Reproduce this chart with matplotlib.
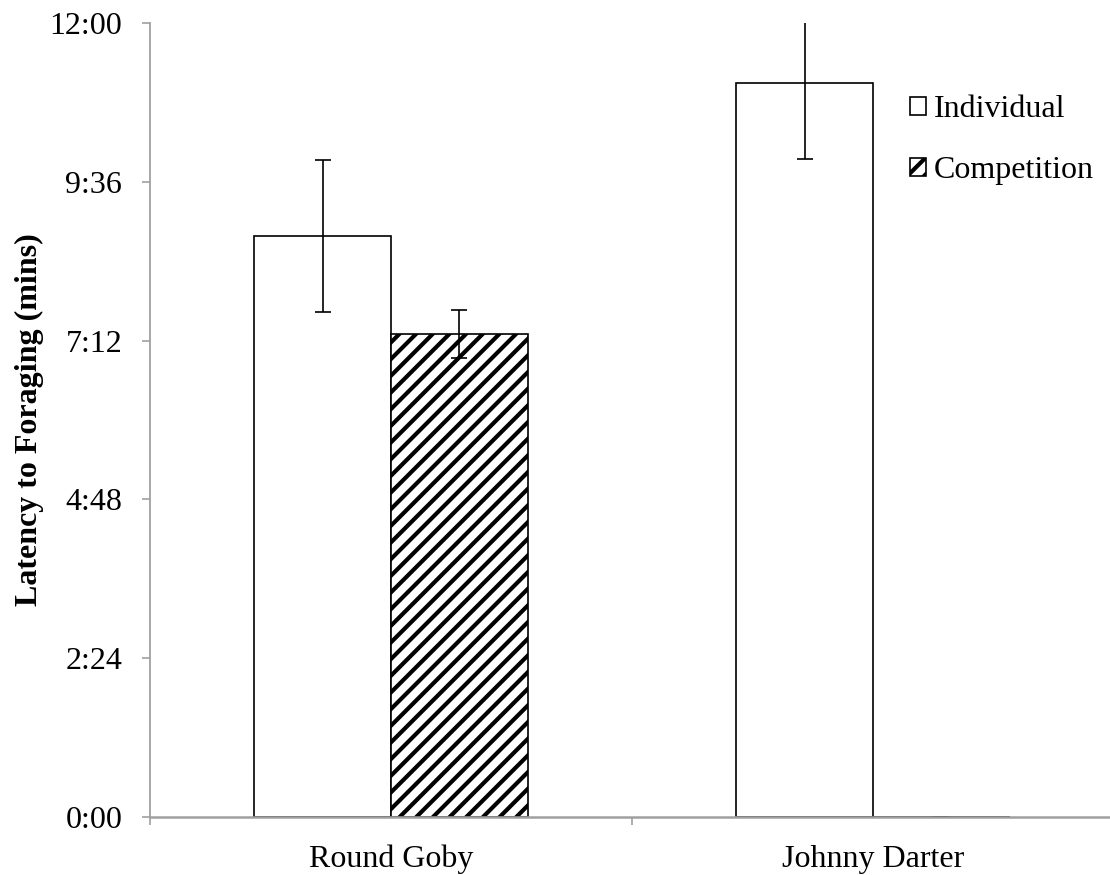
import numpy as np
import matplotlib
matplotlib.use("Agg")
import matplotlib.pyplot as plt
from matplotlib.ticker import FuncFormatter, FixedLocator

# dados (minutos)
especies = ["Round Goby", "Johnny Darter"]
individual = [8.78, 11.09]
individual_erro = [1.15, 1.15]
competicao = [7.30, 0.0]
competicao_erro = [0.36, 0.0]
ticks_y = [0, 2.4, 4.8, 7.2, 9.6, 12.0]

plt.rcParams["font.family"] = ["Liberation Serif", "DejaVu Serif"]
plt.rcParams["hatch.linewidth"] = 3.0

CINZA = "#a0a0a0"
TAM = 23


def formatar_min(v, pos=None):
    seg = int(round(v * 60))
    return f"{seg // 60}:{seg % 60:02d}"


fig = plt.figure(figsize=(11.1, 8.75), dpi=100)
ax = fig.add_axes([150 / 1110, 58 / 875, 964 / 1110, 794 / 875])

x = np.arange(len(especies))
largura = 0.284

ax.bar(x - largura / 2, individual, largura, color="white", edgecolor="black",
       linewidth=1.2, label="Individual", zorder=1)
ax.bar(x + largura / 2, competicao, largura, color="white", edgecolor="black",
       linewidth=1.2, hatch="//", label="Competition", zorder=1)
ax.errorbar(x - largura / 2, individual, yerr=individual_erro, fmt="none",
            ecolor="black", elinewidth=1.2, capsize=5.5, capthick=1.2, zorder=2)
ax.errorbar(x + largura / 2, competicao, yerr=competicao_erro, fmt="none",
            ecolor="black", elinewidth=1.2, capsize=5.5, capthick=1.2, zorder=2)

ax.set_xlim(-0.5, 1.5)
ax.set_ylim(0, 12)
ax.yaxis.set_major_locator(FixedLocator(ticks_y))
ax.yaxis.set_major_formatter(FuncFormatter(formatar_min))
ax.set_xticks(x)
ax.set_xticklabels(especies)
ax.set_xticks([-0.5, 0.5, 1.5], minor=True)

for lado in ["top", "right"]:
    ax.spines[lado].set_visible(False)
for lado in ["left", "bottom"]:
    ax.spines[lado].set_color(CINZA)
    ax.spines[lado].set_linewidth(1.3)
ax.spines["bottom"].set_linewidth(1.8)

ax.tick_params(axis="y", colors=CINZA, labelcolor="black", length=6,
               width=1.2, pad=14, labelsize=TAM)
ax.tick_params(axis="x", which="major", length=0, pad=20, labelsize=TAM)
ax.tick_params(axis="x", which="minor", colors=CINZA, length=6, width=1.2)

ax.set_ylabel("Latency to Foraging (mins)", fontsize=TAM, fontweight="bold")
ax.yaxis.set_label_coords(-106 / 964, 0.5)

ax.legend(loc="upper left", bbox_to_anchor=(910 / 1110, 1 - 95 / 875),
          bbox_transform=fig.transFigure, frameon=False, fontsize=TAM,
          handlelength=0.5, handleheight=0.5, handletextpad=0.25,
          labelspacing=1.0, borderpad=0, borderaxespad=0)

fig.savefig("out.png", dpi=100)
